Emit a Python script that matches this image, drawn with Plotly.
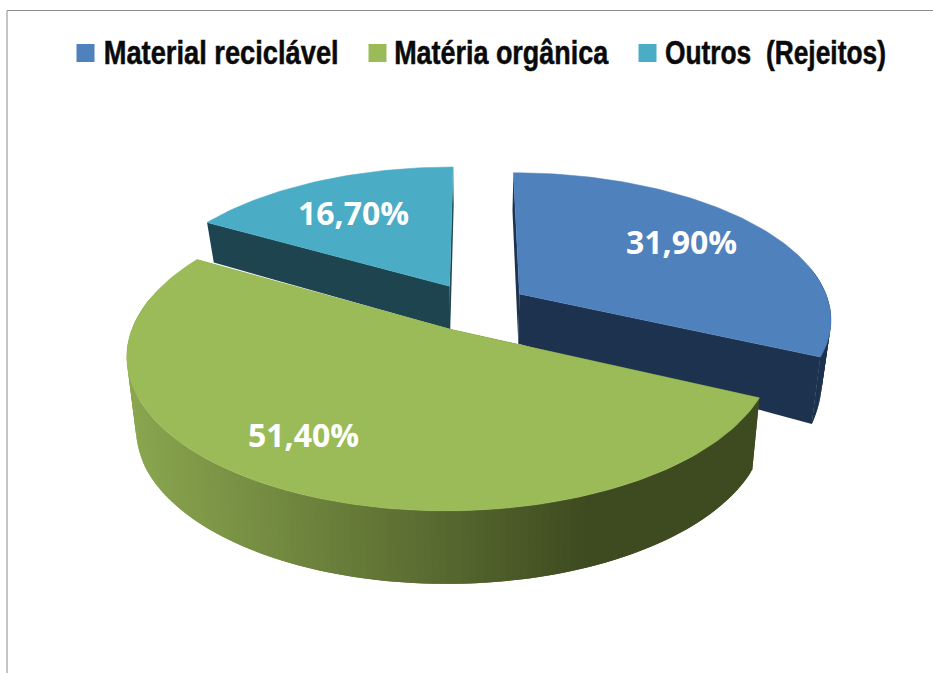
import numpy as np
import plotly.graph_objects as go

categories = ["Material reciclável", "Matéria orgânica", "Outros\u00a0\u00a0(Rejeitos)"]
values = [31.9, 51.4, 16.7]
top_colors = ["#4f81bd", "#9bbb59", "#4bacc6"]
side_colors = ["#1d324f", None, "#1e4450"]
legend_x = [85.5, 377.5, 647.5]
legend_text_center = [220.5, 501, 775.5]
legend_text_width = [235, 214, 221]
label_pos = [(681, 241), (303, 434), (353, 212)]

W, H = 933, 673
EXPLODE = 0.17
X0, Y0, A, B, K = 475.5, 307.0, 311.0, 144.5, 0.16
SHRINK = 0.975


def depth(v):
    return np.interp(v, [-1, -0.14, -0.09, 0.33, 0.55, 1.13], [38, 43, 50, 67, 72, 73])


def top_pt(X, V):
    w = 1 - K * V
    return X0 + A * X / w, Y0 + B * V / w


def bottom_pt(X, V):
    x, y = top_pt(X, V)
    return X0 + (x - X0) * SHRINK, y + depth(V)


def green_grad(x):
    stops_x = [130, 420, 590, 760]
    r = np.interp(x, stops_x, [0x8a, 0x5c, 0x3e, 0x3e])
    g = np.interp(x, stops_x, [0xa6, 0x6e, 0x4b, 0x4b])
    b = np.interp(x, stops_x, [0x4f, 0x32, 0x20, 0x20])
    return f"rgb({r:.0f},{g:.0f},{b:.0f})"


def poly(fig, pts, color, lw=0.5):
    xs = [p[0] for p in pts] + [pts[0][0]]
    ys = [p[1] for p in pts] + [pts[0][1]]
    fig.add_trace(go.Scatter(x=xs, y=ys, mode="lines", fill="toself", fillcolor=color,
                             line=dict(color=color, width=lw), hoverinfo="skip", showlegend=False))


fig = go.Figure()
total = sum(values)
starts = np.cumsum([0] + values[:-1]) / total * 2 * np.pi
spans = np.array(values) / total * 2 * np.pi

for i in [2, 0, 1]:
    a0, da = starts[i], spans[i]
    mid = a0 + da / 2
    cx, cv = EXPLODE * np.sin(mid), -EXPLODE * np.cos(mid)
    th = np.linspace(a0, a0 + da, int(da / 0.02) + 2)
    rim = [(cx + np.sin(t), cv - np.cos(t)) for t in th]
    c = (cx, cv)
    # flat cut faces
    for q in (rim[0], rim[-1]):
        col = side_colors[i] or green_grad(top_pt(*q)[0])
        poly(fig, [top_pt(*c), top_pt(*q), bottom_pt(*q), bottom_pt(*c)], col, 0)
    # outer wall, each strip overlapping the next so no seams show
    for j in range(len(rim) - 1):
        if -np.cos(th[j]) < -0.2:
            continue
        p, q = rim[j], rim[min(j + 2, len(rim) - 1)]
        col = side_colors[i] or green_grad(top_pt(*rim[j])[0])
        poly(fig, [top_pt(*p), top_pt(*q), bottom_pt(*q), bottom_pt(*p)], col, 0)
    poly(fig, [top_pt(*c)] + [top_pt(*r) for r in rim], top_colors[i], 0.5)

# legend keys
fig.add_trace(go.Scatter(x=legend_x, y=[53] * 3, mode="markers", hoverinfo="skip", showlegend=False,
                         marker=dict(symbol="square", size=18, color=top_colors, line=dict(width=0))))

ann = []
for name, x in zip(categories, legend_text_center):
    ann.append(dict(x=x, y=52, xref="x", yref="y", text=name, showarrow=False,
                    font=dict(family="Liberation Sans, Arial, sans-serif", size=33, weight=700, color="#0a0a0a")))
for v, (x, y) in zip(values, label_pos):
    ann.append(dict(x=x, y=y, xref="x", yref="y", text=f"{v:.2f}%".replace(".", ","), showarrow=False,
                    font=dict(family="Open Sans, sans-serif", size=32, weight=700, color="white")))

fig.update_layout(
    width=W, height=H, margin=dict(l=0, r=0, t=0, b=0), paper_bgcolor="white", plot_bgcolor="white",
    showlegend=False, annotations=ann,
    xaxis=dict(range=[0, W], visible=False, fixedrange=True),
    yaxis=dict(range=[H, 0], visible=False, fixedrange=True),
    shapes=[dict(type="line", x0=7, x1=7, y0=10.5, y1=H, xref="x", yref="y", line=dict(color="#8c8c8c", width=1)),
            dict(type="line", x0=7, x1=W, y0=10.5, y1=10.5, xref="x", yref="y", line=dict(color="#8c8c8c", width=1))],
)
# page reset, and the condensed look of the legend captions (real text, squeezed to its measured width)
post = """
document.body.style.margin = '0';
document.documentElement.style.overflow = 'hidden';
var widths = %s;
var nodes = document.querySelectorAll('.annotation-text');
widths.forEach(function (w, i) {
  nodes[i].setAttribute('textLength', w);
  nodes[i].setAttribute('lengthAdjust', 'spacingAndGlyphs');
  nodes[i].style.stroke = '#0a0a0a';
  nodes[i].style.strokeWidth = '0.5px';
});
""" % legend_text_width
fig.write_html("out.html", config=dict(displayModeBar=False), post_script=post)
